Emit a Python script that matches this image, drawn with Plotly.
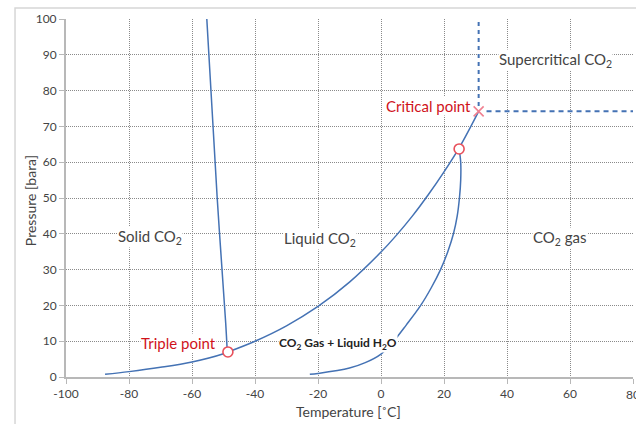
import plotly.graph_objects as go

# ---- data ----
sublim_T = [-87.6, -80, -70, -60, -50, -48.6]
sublim_P = [0.75, 1.5, 2.7, 4.2, 6.5, 7.0]

vapor_T = [-48.6, -40, -30, -20, -10, 0, 5, 10, 15, 20, 25, 31.0]
vapor_P = [7.0, 10.0, 14.3, 19.7, 26.5, 34.9, 39.7, 45.0, 50.9, 57.3, 64.3, 74.2]

melt_T = [-48.8, -49.3, -52.0, -55.3]
melt_P = [7.0, 15, 50, 100]

hydrate_T = [-22.6, -20, -10, -5, 0, 4, 8, 12.6, 16, 18.9, 21.2, 23.0, 24.2, 24.9, 25.3, 25.3, 24.8]
hydrate_P = [0.75, 1.0, 2.5, 4.0, 6.4, 10, 14.5, 20, 25, 30, 35, 40, 45, 50, 55, 60, 63.7]

crit_T, crit_P = 31.0, 74.2
triple_T, triple_P = -48.6, 7.0
quad_T, quad_P = 24.8, 63.7

x_ticks = [-100, -80, -60, -40, -20, 0, 20, 40, 60, 80]
x_ticktext = ["-100", "-80", "-60", "-40", "-20", "0", "20", "40", "60", "80"]
y_ticks = [0, 10, 20, 30, 40, 50, 60, 70, 80, 90, 100]

region_labels = [
    ("Solid CO<sub>2</sub>", -73.2, 39.0),
    ("Liquid CO<sub>2</sub>", -19.4, 38.6),
    ("CO<sub>2</sub> gas", 56.8, 38.8),
    ("Supercritical CO<sub>2</sub>", 55.5, 88.6),
]

LINE = "#4472b4"
RED = "#d0121b"
TXT = "#444444"
FONT = "Lato"

fig = go.Figure()

for xs, ys in [(sublim_T, sublim_P), (vapor_T, vapor_P), (melt_T, melt_P), (hydrate_T, hydrate_P)]:
    fig.add_trace(go.Scatter(x=xs, y=ys, mode="lines", line=dict(color=LINE, width=1.5, shape="spline"),
                             hoverinfo="skip", showlegend=False))

# dashed boundaries of supercritical region
fig.add_trace(go.Scatter(x=[crit_T, crit_T], y=[crit_P + 1.5, 100], mode="lines",
                         line=dict(color=LINE, width=2, dash="4px,4px"), showlegend=False))
fig.add_trace(go.Scatter(x=[crit_T + 2.5, 80], y=[crit_P, crit_P], mode="lines",
                         line=dict(color=LINE, width=2, dash="5px,4px"), showlegend=False))

# markers
fig.add_trace(go.Scatter(x=[triple_T, quad_T], y=[triple_P, quad_P], mode="markers",
                         marker=dict(symbol="circle", size=10, color="white",
                                     line=dict(color="#e8505b", width=1.6)), showlegend=False))
fig.add_trace(go.Scatter(x=[crit_T], y=[crit_P], mode="markers",
                         marker=dict(symbol="x-thin", size=10, line=dict(color="#f08090", width=1.6)),
                         showlegend=False))

for txt, x, y in region_labels:
    fig.add_annotation(x=x, y=y, text=txt, showarrow=False, bgcolor="white",
                       font=dict(family=FONT, size=15, color=TXT), borderpad=0)

fig.add_annotation(x=15.2, y=75.8, text="Critical point", showarrow=False, bgcolor="white",
                   font=dict(family=FONT, size=15, color=RED), borderpad=0)
fig.add_annotation(x=-64.2, y=9.4, text="Triple point", showarrow=False, bgcolor="white",
                   font=dict(family=FONT, size=15, color=RED), borderpad=0)
fig.add_annotation(x=-13.5, y=9.4, text="<b>CO<sub>2</sub> Gas + Liquid H<sub>2</sub>O</b>", showarrow=False,
                   bgcolor="white", font=dict(family=FONT, size=12, color="#222222"), borderpad=0)

# last x tick label sits on the page edge (plotly would hide it)
fig.add_annotation(xref="x", yref="paper", x=x_ticks[-1], y=-0.048, xanchor="center", yanchor="middle",
                   text=x_ticktext[-1], showarrow=False, font=dict(family=FONT, size=12, color=TXT))

# axis titles
fig.add_annotation(xref="paper", yref="paper", x=0.499, y=-0.095, xanchor="center", yanchor="middle",
                   text="Temperature [˚C]", showarrow=False, font=dict(family=FONT, size=14, color=TXT))
fig.add_annotation(xref="paper", yref="paper", x=-0.0635, y=0.494, xanchor="center", yanchor="middle",
                   text="Pressure [bara]", textangle=-90, showarrow=False,
                   font=dict(family=FONT, size=14, color=TXT))

# outer frame
fig.add_shape(type="rect", xref="paper", yref="paper", x0=-0.0899, x1=1.2, y0=-0.3, y1=1.0307,
              line=dict(color="#d6d6d6", width=1.5), fillcolor="rgba(0,0,0,0)", layer="below")

fig.update_layout(
    width=636, height=424,
    margin=dict(l=66, r=3, t=19, b=47),
    paper_bgcolor="white", plot_bgcolor="white",
    font=dict(family=FONT, size=12, color=TXT),
    xaxis=dict(range=[-100, 80], tickvals=x_ticks, ticktext=x_ticktext, showgrid=True,
               gridcolor="#8a8a8a", griddash="1px,1px",
               gridwidth=1, zeroline=False, showline=True, linecolor="#b8b8b8", linewidth=2,
               ticks="outside", ticklen=5, tickcolor="#b8b8b8", tickfont=dict(size=12)),
    yaxis=dict(range=[0, 100], tickvals=y_ticks, showgrid=True, gridcolor="#8a8a8a", griddash="1px,1px",
               gridwidth=1, zeroline=False, showline=True, linecolor="#b8b8b8", linewidth=2,
               ticks="outside", ticklen=5, tickcolor="#b8b8b8", tickfont=dict(size=12)),
)

fig.write_html("out.html", config={"displayModeBar": False},
               post_script="document.body.style.margin='0px';")
